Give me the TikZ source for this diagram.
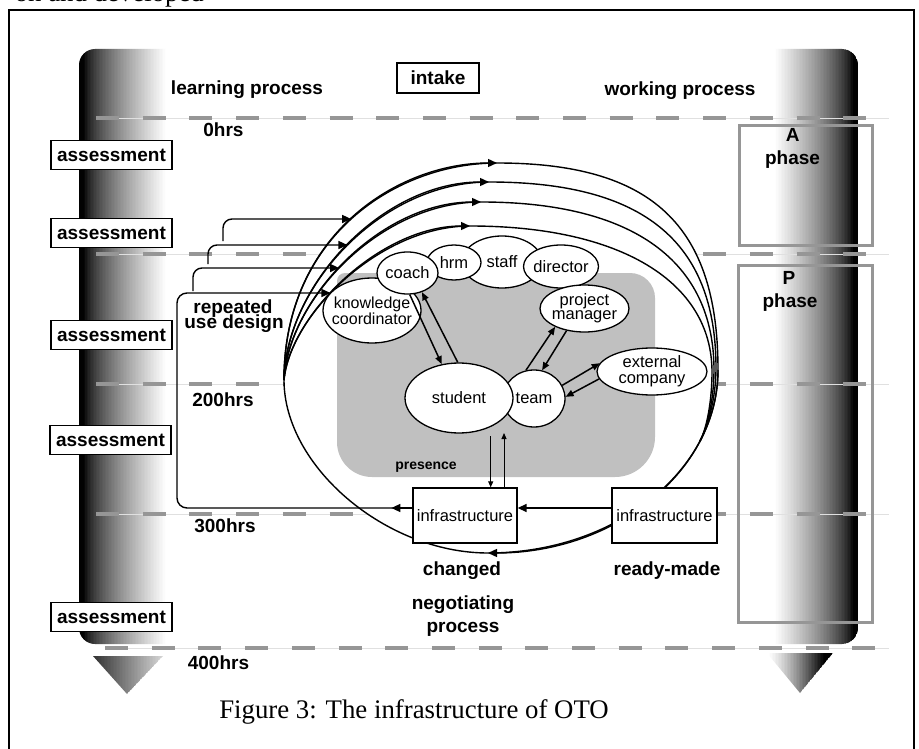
\documentclass[tikz,border=0pt]{standalone}
\usepackage{fontspec}
\setmainfont{Liberation Serif}
\setsansfont{Liberation Sans}
\usetikzlibrary{arrows.meta,shapes.geometric,intersections,calc}
\definecolor{dashgray}{RGB}{150,150,150}
\definecolor{phasegray}{RGB}{150,150,150}
\definecolor{shadegray}{RGB}{192,192,192}
\begin{document}
\begin{tikzpicture}[x=1pt,y=-1pt,
 lab/.style={font=\sffamily\bfseries\fontsize{19}{21}\selectfont, inner sep=0, anchor=base},
 ebox/.style={draw, line width=1.3pt, fill=white, ellipse, inner xsep=-14pt, inner ysep=-4pt, font=\sffamily\fontsize{16.5}{13}\selectfont, align=center},
 abox/.style={draw, line width=1.6pt, fill=white, minimum height=29pt, minimum width=121pt, inner sep=0, font=\sffamily\bfseries\fontsize{19}{21}\selectfont},
 ibox/.style={draw, line width=1.3pt, fill=white, minimum width=104pt, minimum height=55pt, inner sep=0, font=\sffamily\fontsize{16.5}{18}\selectfont},
 arrtip/.style={-{Triangle[length=9pt,width=8pt]}},
 etip/.style={-{Triangle[length=8pt,width=6.5pt]}},
 stip/.style={-{Triangle[length=6pt,width=5pt]}},
 arcline/.style={line width=1.4pt},
 eline/.style={line width=1.5pt},
 hdash/.style={line width=4pt, draw=dashgray, dash pattern=on 23pt off 23.7pt},
 hthin/.style={line width=0.6pt, draw=black!12},
 phasebox/.style={draw=phasegray, line width=3pt, inner sep=0},
]
\useasboundingbox (0,0) rectangle (919,749);
\clip (0,0) rectangle (919,749);
\fill[white] (0,0) rectangle (919,749);

% frame and cut-off text above
\draw[line width=2pt] (9,760) -- (9,10) -- (914,10) -- (914,760);
\node[font=\fontsize{26.8}{30}\selectfont, anchor=base east, inner sep=0] (toptext) at (204,2) {on and developed};

% left pillar
\begin{scope}
 \clip[rounded corners=16pt] (79,644) -- (79,49) -- (195,49) -- (195,644) -- cycle;
 \foreach \i in {0,...,77} {
  \pgfmathsetmacro\xa{79+1.5*\i}
  \pgfmathsetmacro\gg{100*(1-pow(min(1,max(0.001,(\xa-83)/82)),0.7))}
  \fill[black!\gg] (\xa,40) rectangle ({\xa+1.7},660);
 }
\end{scope}
% right pillar
\begin{scope}
 \clip[rounded corners=16pt] (755,49) -- (858,49) -- (858,644) -- (755,644) -- cycle;
 \foreach \i in {0,...,69} {
  \pgfmathsetmacro\xa{755+1.5*\i}
  \pgfmathsetmacro\gg{100*(1-pow(min(1,max(0.001,(852-\xa)/78)),0.7))}
  \fill[black!\gg] (\xa,40) rectangle ({\xa+1.7},660);
 }
\end{scope}
% triangles
\begin{scope}
 \clip (93,656) -- (163,656) -- (127,694) -- cycle;
 \foreach \i in {0,...,47} {
  \pgfmathsetmacro\xa{93+1.5*\i}
  \pgfmathsetmacro\gg{max(10,80-65*(\xa-93)/70)}
  \fill[black!\gg] (\xa,650) rectangle ({\xa+1.7},700);
 }
\end{scope}
\begin{scope}
 \clip (767,653) -- (833,653) -- (800,693) -- cycle;
 \foreach \i in {0,...,45} {
  \pgfmathsetmacro\xa{767+1.5*\i}
  \pgfmathsetmacro\gg{min(100,100*pow(max(0.001,(\xa-767)/56),1.3))}
  \fill[black!\gg] (\xa,650) rectangle ({\xa+1.7},700);
 }
\end{scope}

% time lines
\foreach \yy in {118,254,384,514} {
 \draw[hthin] (96,\yy) -- (889,\yy);
 \draw[hdash] (96,\yy) -- (867,\yy);
}
\draw[hthin] (105,648) -- (889,648);
\draw[hdash] (105,648) -- (876,648);

% phase boxes
\node[phasebox, minimum width=133pt, minimum height=120pt, anchor=north west] (aphase) at (738,124) {};
\node[phasebox, minimum width=134pt, minimum height=357pt, anchor=north west] (pphase) at (737,264) {};

% white body of the loop
\fill[white] (284,380) .. controls (284,234.6) and (398,163) .. (497,163) .. controls (651.7,163) and (718,225) .. (718,370) .. controls (718,471) and (615,553) .. (488,553) .. controls (386,553) and (284,466.5) .. (284,380) -- cycle;

% presence area
\fill[shadegray] (337,281) arc[start angle=180, end angle=90, radius=8pt] -- (630,273) arc[start angle=90, end angle=0, radius=25pt] -- (655,437) arc[start angle=0, end angle=-90, radius=40pt] -- (372,477) arc[start angle=270, end angle=180, radius=35pt] -- cycle;

% arcs
\draw[arcline, name path=arc1] (284,380) .. controls (284,234.6) and (398,163) .. (497,163) .. controls (651.7,163) and (718,225) .. (718,370);
\draw[arcline] (718,370) .. controls (718,471) and (615,553) .. (488,553) .. controls (386,553) and (284,466.5) .. (284,380);
\draw[arcline, name path=arc2] (284,380) .. controls (286,285) and (382,182) .. (489,182) .. controls (643.4,182) and (716,241.5) .. (716,368) .. controls (716,400) and (707,428) .. (700,441);
\draw[arcline, name path=arc3] (284,380) .. controls (288,300) and (380,202) .. (481,202) .. controls (632.5,202) and (714,260.8) .. (714,370) .. controls (714,400) and (707,428) .. (700,441);
\draw[arcline, name path=arc4] (284,380) .. controls (290,315) and (380,226) .. (470,226) .. controls (620,226) and (712,281.5) .. (712,372) .. controls (712,400) and (707,428) .. (700,441);
% arrow heads on the arcs
\draw[arcline, arrtip] (284,380) .. controls (284,234.6) and (398,163) .. (497,163);
\draw[arcline, arrtip] (284,380) .. controls (286,285) and (382,182) .. (489,182);
\draw[arcline, arrtip] (284,380) .. controls (288,300) and (380,202) .. (481,202);
\draw[arcline, arrtip] (284,380) .. controls (290,315) and (380,226) .. (470,226);
\draw[arcline, arrtip] (718,370) .. controls (718,471) and (615,553) .. (488,553);

% actors
\node[ebox, minimum width=98pt, minimum height=65pt, font=\sffamily\fontsize{16}{12}\selectfont] (kc) at (372,310.5) {knowledge\\coordinator};
\node[ebox, minimum width=80pt, minimum height=52pt] (staff) at (502,262) {staff};
\node[ebox, minimum width=54pt, minimum height=35pt] (hrm) at (454,262.5) {hrm};
\node[ebox, minimum width=61pt, minimum height=42pt] (coach) at (407.5,273) {coach};
\node[ebox, minimum width=75pt, minimum height=43pt] (director) at (561,266.5) {director};
\node[ebox, minimum width=89pt, minimum height=47pt, font=\sffamily\fontsize{16.5}{14}\selectfont] (pm) at (584.5,308.5) {project\\manager};
\node[ebox, minimum width=110pt, minimum height=47pt, font=\sffamily\fontsize{16.5}{16}\selectfont] (ext) at (652,371.5) {external\\company};
\node[ebox, minimum width=62pt, minimum height=57pt] (team) at (534,398.5) {team};
\node[ebox, minimum width=108pt, minimum height=70pt] (student) at (459,398) {student};

% infrastructure boxes
\node[ibox] (infraL) at (465,515.5) {infrastructure};
\node[ibox, minimum width=105pt] (infraR) at (664.5,515.5) {infrastructure};

% connectors between actors
\draw[eline, etip] (coach.-84) -- (student.117);
\draw[eline, etip] (student.92) -- (coach.-53);
\draw[eline, etip] (team.106) -- (pm.212);
\draw[eline, etip] (pm.231) -- (team.74);
\draw[eline, etip] (team.25) -- (ext.171);
\draw[eline, etip] (ext.188) -- (team.3);
\coordinate (stdown) at (490.7,436);
\coordinate (stup) at (504,433);
\draw[line width=1pt, stip] (stdown) -- (stdown |- infraL.north);
\draw[line width=1pt, stip] (stup |- infraL.north) -- (stup);

% repeated use design cards
\path[name path=h1] (170,293) -- (460,293);
\path[name path=h2] (170,268) -- (460,268);
\path[name path=h3] (170,245) -- (460,245);
\path[name path=h4] (170,219) -- (460,219);
\path[name intersections={of=arc4 and h1, sort by=h1, by={ix1}}];
\path[name intersections={of=arc3 and h2, sort by=h2, by={ix2}}];
\path[name intersections={of=arc2 and h3, sort by=h3, by={ix3}}];
\path[name intersections={of=arc1 and h4, sort by=h4, by={ix4}}];
\coordinate (c2s) at (193,291);
\coordinate (c3s) at (208,264);
\coordinate (c4s) at (223,241);
\draw[arcline, rounded corners=10pt, arrtip] ([yshift=7.5pt]infraL.west) -- (177,508) -- (177,293) -- (ix1);
\draw[arcline, rounded corners=9pt, arrtip] (c2s) -- (193,268) -- (ix2);
\draw[arcline, rounded corners=9pt, arrtip] (c3s) -- (208,245) -- (ix3);
\draw[arcline, rounded corners=9pt, arrtip] (c4s) -- (223,219) -- (ix4);
\draw[arcline, arrtip] ([yshift=7.5pt]infraL.west) -- ++(-21,0);
\draw[arcline, arrtip] ([yshift=7.5pt]infraR.west) -- ([yshift=7.5pt]infraL.east);

% assessment and intake boxes
\node[abox] (as1) at (111.5,155) {assessment};
\node[abox] (as2) at (111.5,233) {assessment};
\node[abox] (as3) at (111.5,335) {assessment};
\node[abox] (as4) at (110.5,440) {assessment};
\node[abox] (as5) at (111.5,617) {assessment};
\node[abox, minimum width=82pt, minimum height=30pt] (intake) at (438,78) {intake};

% labels
\node[lab] (lp) at (247,95) {learning process};
\node[lab] (wp) at (680,96) {working process};
\node[lab] (h0) at (223.5,137) {0hrs};
\node[lab] (h200) at (223,406) {200hrs};
\node[lab] (h300) at (225,532) {300hrs};
\node[lab] (h400) at (218.5,669) {400hrs};
\node[lab] (aA) at (792.7,142) {A};
\node[lab] (aph) at (792.5,165) {phase};
\node[lab] (pP) at (789,284) {P};
\node[lab] (pph) at (790,307) {phase};
\node[lab] (rep1) at (233,313) {repeated};
\node[lab] (rep2) at (234,328) {use design};
\node[lab, font=\sffamily\bfseries\fontsize{14}{16}\selectfont] (pres) at (426,469) {presence};
\node[lab] (chg) at (462,575) {changed};
\node[lab] (neg1) at (463,609) {negotiating};
\node[lab] (neg2) at (463,632) {process};
\node[lab] (rm) at (667,575) {ready-made};
\node[font=\fontsize{26.8}{30}\selectfont, anchor=base, inner sep=0] (caption) at (414,718) {Figure 3: The infrastructure of OTO};
\end{tikzpicture}
\end{document}
